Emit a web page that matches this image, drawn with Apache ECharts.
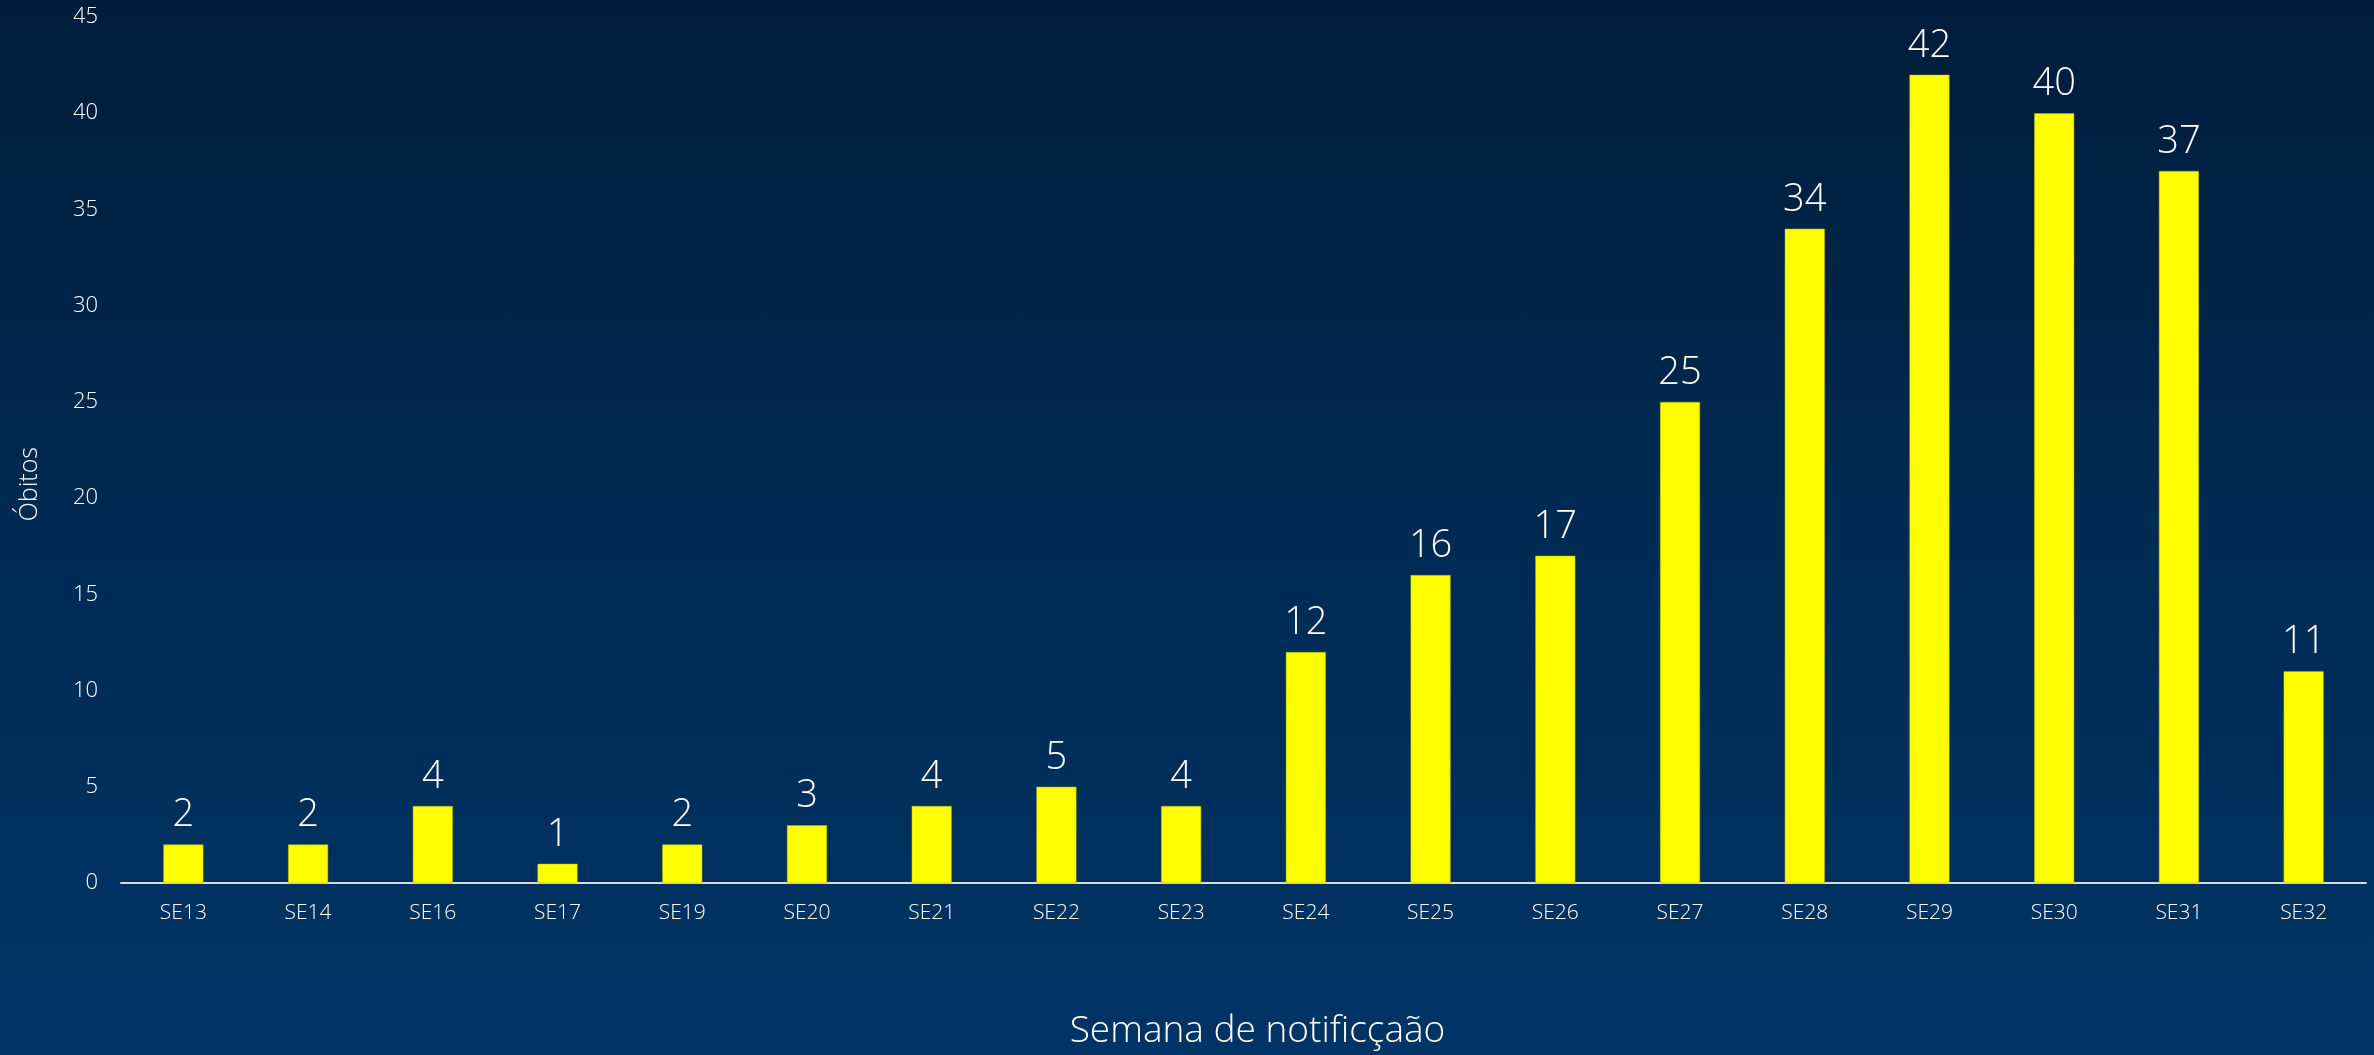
<!DOCTYPE html>
<html>
<head>
<meta charset="utf-8">
<script src="https://cdn.jsdelivr.net/npm/echarts@6/dist/echarts.min.js"></script>
<style>
  html, body { margin: 0; padding: 0; }
  #chart {
    width: 2374px;
    height: 1055px;
    background: linear-gradient(to bottom, #001c3a 0%, #002a52 50%, #003466 100%);
  }
</style>
</head>
<body>
<div id="chart"></div>
<script>
const weeks = ['SE13', 'SE14', 'SE16', 'SE17', 'SE19', 'SE20', 'SE21', 'SE22', 'SE23',
  'SE24', 'SE25', 'SE26', 'SE27', 'SE28', 'SE29', 'SE30', 'SE31', 'SE32'];
const deaths = [2, 2, 4, 1, 2, 3, 4, 5, 4, 12, 16, 17, 25, 34, 42, 40, 37, 11];

const fontFamily = '"Open Sans", Lato, sans-serif';
const chart = echarts.init(document.getElementById('chart'));

chart.setOption({
  backgroundColor: 'transparent',
  animation: false,
  grid: { left: 121, right: 8, top: 17, bottom: 171 },
  graphic: [
    {
      type: 'text',
      left: 17,
      top: 447,
      rotation: Math.PI / 2,
      style: {
        text: 'Óbitos',
        fill: '#ffffff',
        font: '300 25px ' + fontFamily,
      },
    },
  ],
  xAxis: {
    type: 'category',
    data: weeks,
    name: 'Semana de notificçaão',
    nameLocation: 'middle',
    nameGap: 130,
    nameTextStyle: { color: '#ffffff', fontSize: 37, fontWeight: 300, fontFamily, padding: [0, 0, 0, 28] },
    axisLine: { lineStyle: { color: '#d9d9d9', width: 2 } },
    axisTick: { show: false },
    axisLabel: { color: '#ffffff', fontSize: 21, fontWeight: 300, fontFamily, margin: 20 },
  },
  yAxis: {
    type: 'value',
    min: 0,
    max: 45,
    interval: 5,
    axisLine: { show: false },
    axisTick: { show: false },
    splitLine: { show: false },
    axisLabel: { color: '#ffffff', fontSize: 22, fontWeight: 300, fontFamily, margin: 23 },
  },
  series: [
    {
      type: 'bar',
      data: deaths,
      barWidth: 40,
      itemStyle: { color: '#ffff00', borderColor: '#b8b800', borderWidth: 0.5 },
      label: {
        show: true,
        position: 'top',
        distance: 10,
        color: '#ffffff',
        fontSize: 38,
        fontWeight: 300,
        fontFamily,
      },
    },
  ],
});
</script>
</body>
</html>
